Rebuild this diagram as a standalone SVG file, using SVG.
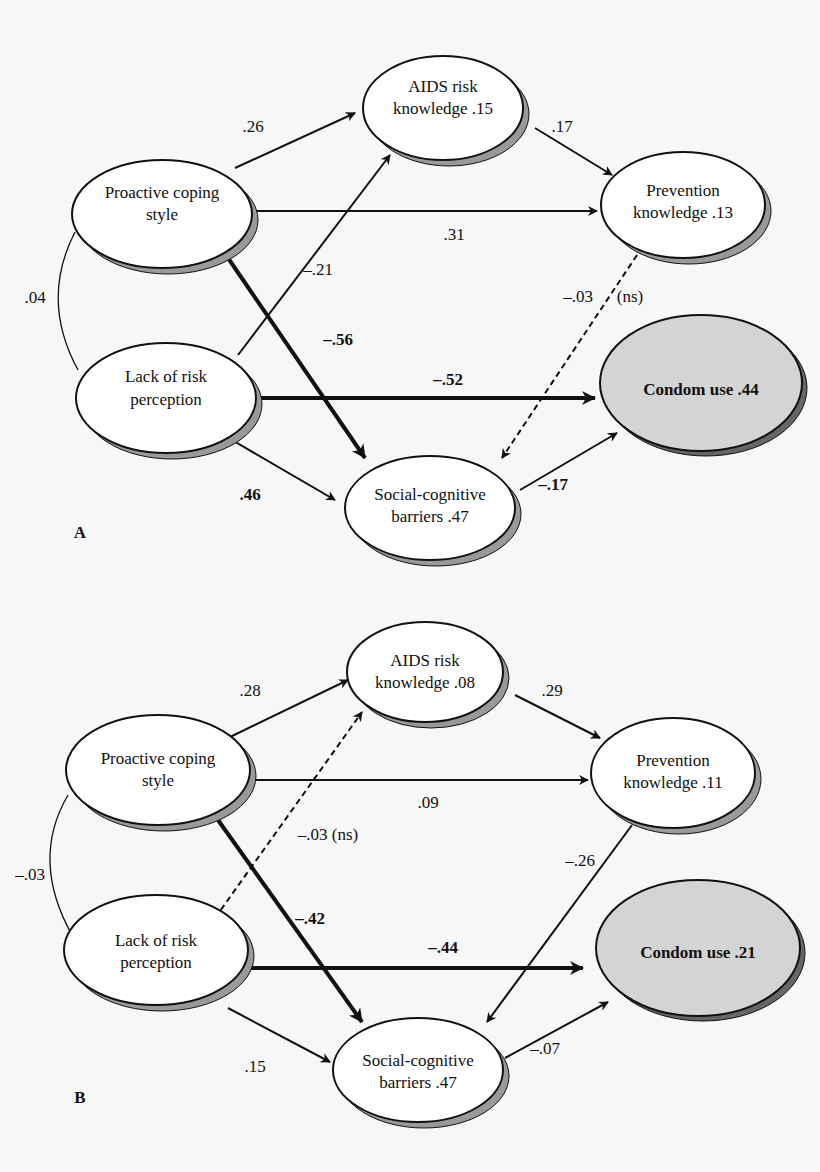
<svg xmlns="http://www.w3.org/2000/svg" width="820" height="1172" viewBox="0 0 820 1172">
<style>
text{font-family:"Liberation Serif","Times New Roman",serif;font-size:17px;fill:#111;text-anchor:middle}
.b{font-weight:bold}
.n{fill:#fff;stroke:#111;stroke-width:2}
.s{fill:#999;stroke:#111;stroke-width:1}
.c{fill:#d4d4d4;stroke:#111;stroke-width:2}
.cs{fill:#666;stroke:#111;stroke-width:1}
.l{stroke:#111;stroke-width:2;fill:none;marker-end:url(#a)}
.t{stroke:#111;stroke-width:4;fill:none;marker-end:url(#at)}
.d{stroke:#111;stroke-width:2;fill:none;stroke-dasharray:6,4;marker-end:url(#a)}
.p{stroke:#111;stroke-width:1.3;fill:none}
</style>
<defs>
<marker id="a" markerWidth="10" markerHeight="10" refX="9" refY="5" orient="auto" markerUnits="userSpaceOnUse" viewBox="0 0 10 10"><path d="M0,0 L10,5 L0,10 L3,5 Z" fill="#111"/></marker>
<marker id="at" markerWidth="14" markerHeight="14" refX="13" refY="7" orient="auto" markerUnits="userSpaceOnUse" viewBox="0 0 14 14"><path d="M0,0 L14,7 L0,14 L4,7 Z" fill="#111"/></marker>
</defs>
<rect width="820" height="1172" fill="#f7f7f7"/>
<g id="connectors">
<path class="l" d="M235,168 L355,113"/>
<path class="l" d="M535,128 L612,175"/>
<path class="l" d="M252,211 L597,211"/>
<path class="t" d="M228,258 L365,458"/>
<path class="l" d="M238,355 L390,155"/>
<path class="t" d="M255,398 L595,398"/>
<path class="l" d="M232,440 L335,500"/>
<path class="d" d="M637,255 L502,458"/>
<path class="l" d="M520,490 L617,433"/>
<path class="p" d="M75,232 Q40,300 78,370"/>
<path class="l" d="M228,738 L348,680"/>
<path class="l" d="M515,695 L600,738"/>
<path class="l" d="M248,780 L588,780"/>
<path class="t" d="M218,820 L362,1022"/>
<path class="d" d="M215,918 L362,712"/>
<path class="t" d="M248,968 L583,968"/>
<path class="l" d="M228,1008 L330,1062"/>
<path class="l" d="M632,825 L487,1022"/>
<path class="l" d="M505,1058 L608,1002"/>
<path class="p" d="M68,795 Q30,860 72,935"/>
</g>
<g id="labels">
<text x="253" y="132">.26</text><text x="562" y="132">.17</text><text x="454" y="240">.31</text>
<text class="b" x="338" y="345">–.56</text><text x="318" y="275">–.21</text><text class="b" x="448" y="385">–.52</text>
<text class="b" x="250" y="500">.46</text><text x="578" y="302">–.03</text><text x="630" y="302">(ns)</text><text class="b" x="553" y="490">–.17</text>
<text x="35" y="303">.04</text><text class="b" x="80" y="538">A</text>
<text x="250" y="696">.28</text><text x="552" y="696">.29</text><text x="428" y="808">.09</text>
<text class="b" x="310" y="924">–.42</text><text x="328" y="840">–.03 (ns)</text><text class="b" x="443" y="953">–.44</text>
<text x="255" y="1072">.15</text><text x="580" y="866">–.26</text><text x="545" y="1054">–.07</text>
<text x="30" y="880">–.03</text><text class="b" x="80" y="1103">B</text>
</g>
<g id="pA"><ellipse class="s" cx="168" cy="220" rx="90" ry="54"/><ellipse class="n" cx="162" cy="214" rx="90" ry="54"/><text x="162" y="198">Proactive coping</text><text x="162" y="220">style</text></g>
<g id="lA"><ellipse class="s" cx="172" cy="404" rx="90" ry="55"/><ellipse class="n" cx="166" cy="398" rx="90" ry="55"/><text x="166" y="382">Lack of risk</text><text x="166" y="405">perception</text></g>
<g id="aA"><ellipse class="s" cx="449" cy="114" rx="80" ry="52"/><ellipse class="n" cx="443" cy="108" rx="80" ry="52"/><text x="443" y="92">AIDS risk</text><text x="443" y="114">knowledge .15</text></g>
<g id="vA"><ellipse class="s" cx="689" cy="211" rx="82" ry="53"/><ellipse class="n" cx="683" cy="205" rx="82" ry="53"/><text x="683" y="196">Prevention</text><text x="683" y="218">knowledge .13</text></g>
<g id="cA"><ellipse class="cs" cx="706" cy="388" rx="101" ry="68"/><ellipse class="c" cx="701" cy="383" rx="101" ry="68"/><text class="b" x="701" y="395">Condom use .44</text></g>
<g id="sA"><ellipse class="s" cx="436" cy="514" rx="85" ry="52"/><ellipse class="n" cx="430" cy="508" rx="85" ry="52"/><text x="430" y="500">Social-cognitive</text><text x="430" y="522">barriers .47</text></g>
<g id="pB"><ellipse class="s" cx="164" cy="776" rx="92" ry="55"/><ellipse class="n" cx="158" cy="770" rx="92" ry="55"/><text x="158" y="764">Proactive coping</text><text x="158" y="786">style</text></g>
<g id="lB"><ellipse class="s" cx="162" cy="956" rx="92" ry="55"/><ellipse class="n" cx="156" cy="950" rx="92" ry="55"/><text x="156" y="946">Lack of risk</text><text x="156" y="968">perception</text></g>
<g id="aB"><ellipse class="s" cx="431" cy="678" rx="78" ry="50"/><ellipse class="n" cx="425" cy="672" rx="78" ry="50"/><text x="425" y="666">AIDS risk</text><text x="425" y="688">knowledge .08</text></g>
<g id="vB"><ellipse class="s" cx="679" cy="779" rx="82" ry="55"/><ellipse class="n" cx="673" cy="773" rx="82" ry="55"/><text x="673" y="766">Prevention</text><text x="673" y="788">knowledge .11</text></g>
<g id="cB"><ellipse class="cs" cx="703" cy="953" rx="102" ry="68"/><ellipse class="c" cx="698" cy="948" rx="102" ry="68"/><text class="b" x="698" y="958">Condom use .21</text></g>
<g id="sB"><ellipse class="s" cx="424" cy="1076" rx="85" ry="52"/><ellipse class="n" cx="418" cy="1070" rx="85" ry="52"/><text x="418" y="1066">Social-cognitive</text><text x="418" y="1088">barriers .47</text></g>
</svg>
